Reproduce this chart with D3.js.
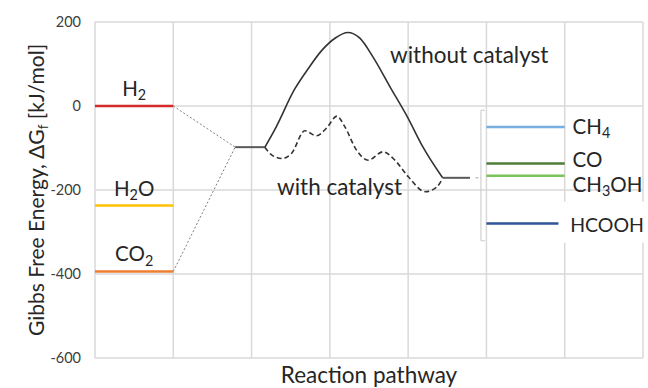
<!DOCTYPE html>
<html><head><meta charset="utf-8">
<script src="https://cdn.jsdelivr.net/npm/d3@7"></script>
<style>body{margin:0;background:#fff}svg{display:block}text{font-family:Lato,"Open Sans",sans-serif;fill:#262626}</style>
</head><body>
<script>
// ---- data ----
const yTicks = [200, 0, -200, -400, -600];
const xGrid = [0, 1, 2, 3, 4, 5, 6, 7];
const reactantNames = ["H2", "H2O", "CO2"];
const reactantValues = [0, -237, -394];
const intermediateValue = -98;
const finalValue = -171;
const withoutX = [2.17, 2.30, 2.55, 2.72, 2.90, 3.07, 3.23, 3.38, 3.55, 3.77, 3.99, 4.19, 4.44];
const withoutY = [-98, -55, 40, 88, 133, 162, 175, 162, 117, 45, -26, -98, -171];
const withX = [2.17, 2.26, 2.39, 2.51, 2.68, 2.83, 2.96, 3.09, 3.19, 3.34, 3.49, 3.68, 3.83, 4.00, 4.22, 4.36, 4.44];
const withY = [-98, -117, -125, -113, -59, -71, -52, -24, -49, -105, -129, -109, -129, -168, -204, -194, -173];
const productNames = ["CH4", "CO", "CH3OH", "HCOOH"];
const productValues = [-50, -137, -166, -280];

// ---- styles ----
const reactantColors = {H2: "#d42a2a", H2O: "#ffc000", CO2: "#ed7d31"};
const productColors = {CH4: "#77aee0", CO: "#4e7d38", CH3OH: "#7ac35a", HCOOH: "#2f5597"};
const labelNudge = {CH4: 7, CO: 3, CH3OH: 16, HCOOH: 8};

const W = 648, H = 388;
const svg = d3.select("body").append("svg").attr("width", W).attr("height", H);
const x = d3.scaleLinear().domain([0, 7]).range([95, 643]);
const y = d3.scaleLinear().domain([-600, 200]).range([358, 22]);

// grid
const g = svg.append("g");
g.selectAll(".hg").data(yTicks).join("line")
  .attr("x1", x(0)).attr("x2", x(7)).attr("y1", d => y(d)).attr("y2", d => y(d))
  .attr("stroke", "#d9d9d9").attr("stroke-width", 1.5);
g.selectAll(".vg").data(xGrid).join("line")
  .attr("x1", d => x(d)).attr("x2", d => x(d)).attr("y1", y(200)).attr("y2", y(-600))
  .attr("stroke", "#d9d9d9").attr("stroke-width", 1.5);

// y tick labels
svg.selectAll(".yt").data(yTicks).join("text")
  .attr("x", 81).attr("y", d => y(d)).attr("dy", "0.35em")
  .attr("text-anchor", "end").style("font-size", "14.5px").style("fill", "#404040")
  .text(d => d);

// dotted connectors
const conn = [[1, reactantValues[0]], [1, reactantValues[2]]];
conn.forEach(c => {
  svg.append("line").attr("x1", x(c[0])).attr("y1", y(c[1]))
    .attr("x2", x(1.79)).attr("y2", y(intermediateValue))
    .attr("stroke", "#7f7f7f").attr("stroke-width", 1).attr("stroke-dasharray", "2,2");
});

// reactant levels
reactantNames.forEach((n, i) => {
  svg.append("line").attr("x1", x(0)).attr("x2", x(1))
    .attr("y1", y(reactantValues[i])).attr("y2", y(reactantValues[i]))
    .attr("stroke", reactantColors[n]).attr("stroke-width", 2.5);
});

// chemical formula with subscript digits (no empty tspans)
function chem(sel, name) {
  const parts = name.match(/[A-Za-z]+|\d+/g);
  let lowered = false;
  parts.forEach(p => {
    if (/^\d+$/.test(p)) {
      sel.append("tspan").text(p).attr("dy", "0.3em").style("font-size", "0.7em");
      lowered = true;
    } else {
      const t = sel.append("tspan").text(p);
      if (lowered) { t.attr("dy", "-0.21em"); lowered = false; }
    }
  });
}

reactantNames.forEach((n, i) => {
  const t = svg.append("text").attr("x", x(0.5)).attr("y", y(reactantValues[i]) - 10)
    .attr("text-anchor", "middle").style("font-size", "20.5px");
  chem(t, n);
});

// intermediate & final levels
const lvl = (a, b, v) => svg.append("line").attr("x1", x(a)).attr("x2", x(b))
  .attr("y1", y(v)).attr("y2", y(v)).attr("stroke", "#595959").attr("stroke-width", 2);
lvl(1.79, 2.17, intermediateValue);
lvl(4.44, 4.79, finalValue);
svg.append("line").attr("x1", x(4.86)).attr("x2", x(4.93)).attr("y1", y(finalValue)).attr("y2", y(finalValue))
  .attr("stroke", "#a6a6a6").attr("stroke-width", 1).attr("stroke-dasharray", "3,2");

// curves
const line = d3.line().x(d => x(d[0])).y(d => y(d[1])).curve(d3.curveMonotoneX);
svg.append("path").attr("d", line(d3.zip(withoutX, withoutY)))
  .attr("fill", "none").attr("stroke", "#333").attr("stroke-width", 1.6);
svg.append("path").attr("d", line(d3.zip(withX, withY)))
  .attr("fill", "none").attr("stroke", "#333").attr("stroke-width", 1.6).attr("stroke-dasharray", "5,3");

svg.append("text").attr("x", 390).attr("y", 63).style("font-size", "22.5px").text("without catalyst");
svg.append("text").attr("x", 277).attr("y", 195).style("font-size", "22.5px").text("with catalyst");

// bracket
svg.append("path")
  .attr("d", `M${x(4.98)},${y(-10)} H${x(4.93)} V${y(-321)} H${x(4.98)}`)
  .attr("fill", "none").attr("stroke", "#c8c8c8").attr("stroke-width", 1);

// product levels
productNames.forEach((n, i) => {
  svg.append("line").attr("x1", x(5)).attr("x2", x(n === "HCOOH" ? 5.92 : 6))
    .attr("y1", y(productValues[i])).attr("y2", y(productValues[i]))
    .attr("stroke", productColors[n]).attr("stroke-width", 2.5);
});
// white box behind HCOOH label
svg.append("rect").attr("x", x(6) - 1).attr("y", y(productValues[3]) - 22)
  .attr("width", W - x(6) + 1).attr("height", 41).attr("fill", "#fff");
productNames.forEach((n, i) => {
  const t = svg.append("text").attr("x", n === "HCOOH" ? x(6.07) : x(6.1))
    .attr("y", y(productValues[i]) + labelNudge[n])
    .style("font-size", n === "HCOOH" ? "19.5px" : "20.5px");
  chem(t, n);
});

// axis titles
const yt = svg.append("text").attr("transform", `translate(44,190) rotate(-90)`)
  .attr("text-anchor", "middle").style("font-size", "21px");
yt.append("tspan").text("Gibbs Free Energy, \u0394G");
yt.append("tspan").text("f").attr("dy", "0.3em").style("font-size", "0.65em");
yt.append("tspan").text(" [kJ/mol]").attr("dy", "-0.2em");

svg.append("text").attr("x", 369).attr("y", 383).attr("text-anchor", "middle")
  .style("font-size", "22.5px").text("Reaction pathway");
</script>
</body></html>
